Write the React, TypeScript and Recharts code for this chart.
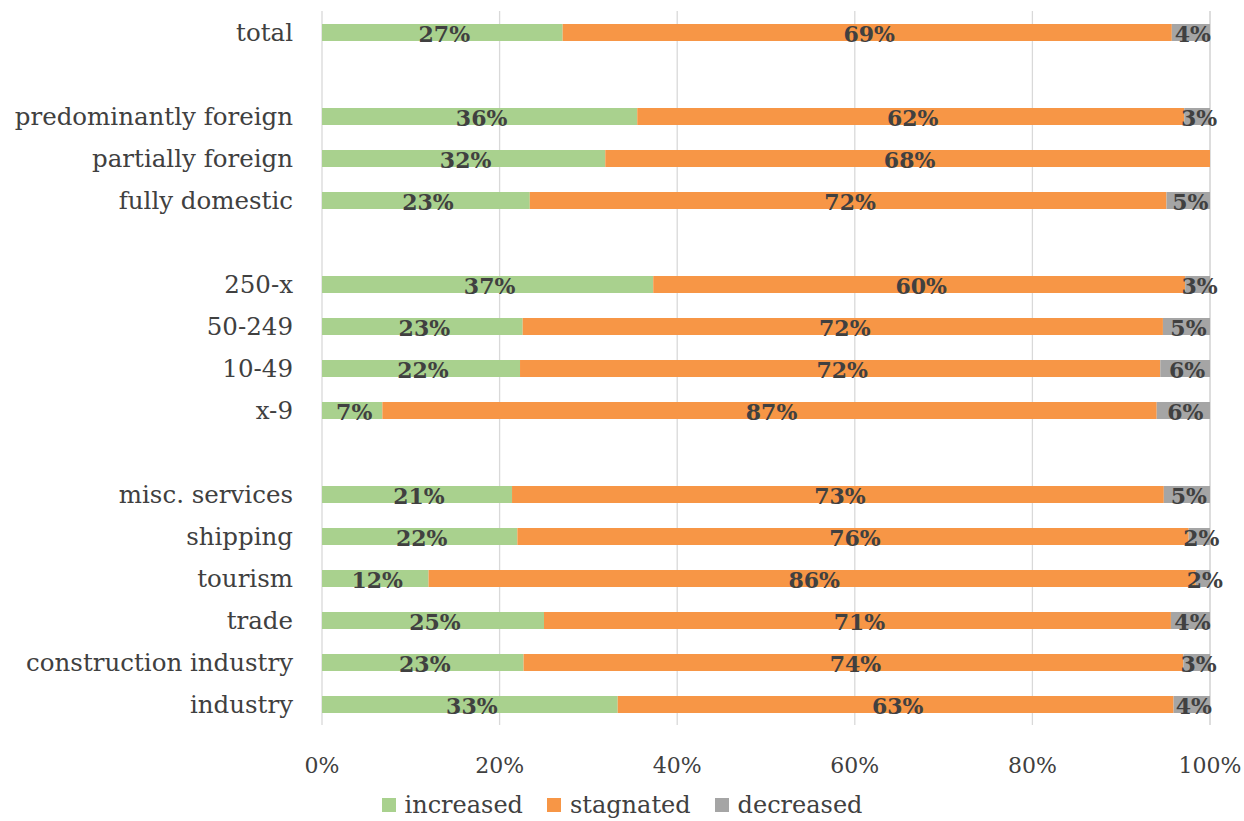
import * as React from "react";
import {
  Bar,
  BarChart,
  CartesianGrid,
  LabelList,
  XAxis,
  YAxis,
} from "recharts";

// rows top to bottom; blank strings are spacer rows between groups
const categories = [
  "total",
  " ",
  "predominantly foreign",
  "partially foreign",
  "fully domestic",
  "  ",
  "250-x",
  "50-249",
  "10-49",
  "x-9",
  "   ",
  "misc. services",
  "shipping",
  "tourism",
  "trade",
  "construction industry",
  "industry",
];

const increased = [27.1, null, 35.5, 31.9, 23.4, null, 37.3, 22.6, 22.3, 6.8, null, 21.4, 22.0, 12.0, 25.0, 22.7, 33.3];
const stagnated = [68.6, null, 61.6, 68.1, 71.7, null, 59.9, 72.1, 72.1, 87.2, null, 73.4, 75.6, 86.4, 70.6, 74.3, 62.6];
const decreased = [4.3, null, 2.9, 0, 4.9, null, 2.8, 5.3, 5.6, 6.0, null, 5.2, 2.4, 1.6, 4.4, 3.0, 4.1];

const xTicks = [0, 20, 40, 60, 80, 100];

const series = [
  { key: "increased", label: "increased", color: "#A9D18E" },
  { key: "stagnated", label: "stagnated", color: "#F79646" },
  { key: "decreased", label: "decreased", color: "#A5A5A5" },
];

const FONT = "'DejaVu Serif', serif";
const TEXT = "#404040";

const data = categories.map((name, i) => ({
  name,
  increased: increased[i],
  stagnated: stagnated[i],
  decreased: decreased[i],
}));

function renderValue(props: any) {
  const { x, y, width, height, value } = props;
  if (value == null || value === 0) return null;
  return (
    <text
      x={Number(x) + Number(width) / 2 + 2}
      y={Number(y) + Number(height) / 2 + 3}
      textAnchor="middle"
      dominantBaseline="middle"
      fill={TEXT}
      fontFamily={FONT}
      fontWeight="bold"
      fontSize={22}
    >
      {`${Math.round(Number(value))}%`}
    </text>
  );
}

export default function App() {
  return (
    <div
      style={{
        position: "absolute",
        left: 0,
        top: 0,
        width: 1244,
        height: 821,
        background: "#fff",
        fontFamily: FONT,
      }}
    >
      <BarChart
        width={1244}
        height={821}
        data={data}
        layout="vertical"
        barSize={17}
        margin={{ top: 11, right: 34, left: 0, bottom: 36 }}
      >
        <CartesianGrid horizontal={false} stroke="#D9D9D9" strokeWidth={1.3} />
        <XAxis
          type="number"
          domain={[0, 100]}
          ticks={xTicks}
          tickFormatter={(v) => `${v}%`}
          axisLine={false}
          tickLine={false}
          tickSize={0}
          tickMargin={32}
          height={60}
          interval={0}
          tick={{ fill: TEXT, fontSize: 22, fontFamily: FONT }}
        />
        <YAxis
          type="category"
          dataKey="name"
          width={322}
          axisLine={false}
          tickLine={false}
          tickSize={0}
          tickMargin={29}
          interval={0}
          tick={{ fill: TEXT, fontSize: 24.5, fontFamily: FONT }}
        />
        {series.map((s) => (
          <Bar
            key={s.key}
            dataKey={s.key}
            stackId="a"
            fill={s.color}
            isAnimationActive={false}
          >
            <LabelList dataKey={s.key} content={renderValue} />
          </Bar>
        ))}
      </BarChart>
      <div
        style={{
          position: "absolute",
          left: 0,
          top: 791,
          width: 1244,
          display: "flex",
          justifyContent: "center",
          gap: 24,
          fontSize: 24,
          color: TEXT,
          lineHeight: "28px",
        }}
      >
        {series.map((s) => (
          <div key={s.key} style={{ display: "flex", alignItems: "center" }}>
            <span
              style={{
                display: "inline-block",
                width: 14,
                height: 14,
                background: s.color,
                marginRight: 9,
              }}
            />
            <span>{s.label}</span>
          </div>
        ))}
      </div>
    </div>
  );
}
